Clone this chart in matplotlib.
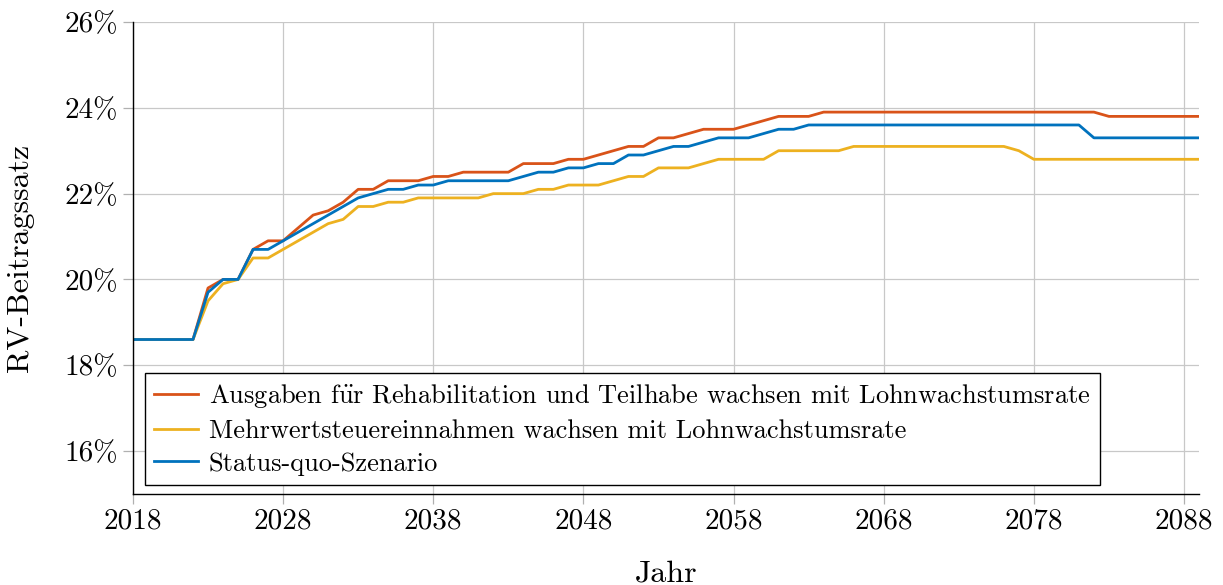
import matplotlib
matplotlib.use("Agg")
import matplotlib.pyplot as plt
import numpy as np

plt.rcParams['font.family'] = ['cmr10', 'DejaVu Serif']
plt.rcParams['mathtext.fontset'] = 'cm'
plt.rcParams['axes.formatter.use_mathtext'] = True

years = list(range(2018, 2090))

reha = ([18.6] * 5 +
        [19.8, 20.0, 20.0, 20.7, 20.9, 20.9, 21.2, 21.5, 21.6, 21.8,
         22.1, 22.1, 22.3, 22.3, 22.3, 22.4, 22.4, 22.5, 22.5, 22.5,
         22.5, 22.7, 22.7, 22.7, 22.8, 22.8, 22.9, 23.0, 23.1, 23.1,
         23.3, 23.3, 23.4, 23.5, 23.5, 23.5, 23.6, 23.7, 23.8, 23.8,
         23.8] +
        [23.9] * 19 + [23.8] * 7)

mwst = ([18.6] * 5 +
        [19.5, 19.9, 20.0, 20.5, 20.5, 20.7, 20.9, 21.1, 21.3, 21.4,
         21.7, 21.7, 21.8, 21.8, 21.9, 21.9, 21.9, 21.9, 21.9, 22.0,
         22.0, 22.0, 22.1, 22.1, 22.2, 22.2, 22.2, 22.3, 22.4, 22.4,
         22.6, 22.6, 22.6, 22.7, 22.8, 22.8, 22.8, 22.8, 23.0, 23.0,
         23.0, 23.0, 23.0] +
        [23.1] * 11 + [23.0] + [22.8] * 12)

status_quo = ([18.6] * 5 +
              [19.7, 20.0, 20.0, 20.7, 20.7, 20.9, 21.1, 21.3, 21.5, 21.7,
               21.9, 22.0, 22.1, 22.1, 22.2, 22.2, 22.3, 22.3, 22.3, 22.3,
               22.3, 22.4, 22.5, 22.5, 22.6, 22.6, 22.7, 22.7, 22.9, 22.9,
               23.0, 23.1, 23.1, 23.2, 23.3, 23.3, 23.3, 23.4, 23.5, 23.5] +
              [23.6] * 19 + [23.3] * 8)

labels = [r'Ausgaben f$\ddot{\mathrm{u}}$r Rehabilitation und Teilhabe wachsen mit Lohnwachstumsrate',
          'Mehrwertsteuereinnahmen wachsen mit Lohnwachstumsrate',
          'Status-quo-Szenario']
colors = ['#D95319', '#EDB120', '#0072BD']

xticks = [2018, 2028, 2038, 2048, 2058, 2068, 2078, 2088]
yticks = [16, 18, 20, 22, 24, 26]
ytick_labels = ['16%', '18%', '20%', '22%', '24%', '26%']

fig = plt.figure(figsize=(12.23, 5.85), dpi=100)
ax = fig.add_axes([0.1087, 0.1556, 0.8717, 0.8068])

for series, lab, col in zip([reha, mwst, status_quo], labels, colors):
    ax.plot(years, series, color=col, lw=2.0, label=lab)

ax.set_xlim(2018, 2089)
ax.set_ylim(15, 26)
ax.set_xticks(xticks)
ax.set_xticklabels([str(x) for x in xticks])
ax.set_yticks(yticks)
ax.set_yticklabels(ytick_labels)
ax.grid(True, color='#c8c8c8', lw=0.9)
ax.set_axisbelow(True)
ax.tick_params(axis='both', direction='out', length=7.5, width=0.9, color='#b0b0b0',
               labelsize=21, pad=3)
for s in ['top', 'right']:
    ax.spines[s].set_visible(False)
for s in ['left', 'bottom']:
    ax.spines[s].set_color('black')
    ax.spines[s].set_linewidth(1.0)

ax.set_xlabel('Jahr', fontsize=23, labelpad=18)
ax.set_ylabel('RV-Beitragssatz', fontsize=23, labelpad=22)

leg = ax.legend(loc='lower left', bbox_to_anchor=(0.0113, 0.019), fontsize=19,
                frameon=True, fancybox=False, edgecolor='black', framealpha=1,
                handlelength=1.65, handletextpad=0.4, labelspacing=0.34,
                borderpad=0.36, borderaxespad=0)
leg.get_frame().set_linewidth(1.0)

fig.savefig('out.png', dpi=100)
